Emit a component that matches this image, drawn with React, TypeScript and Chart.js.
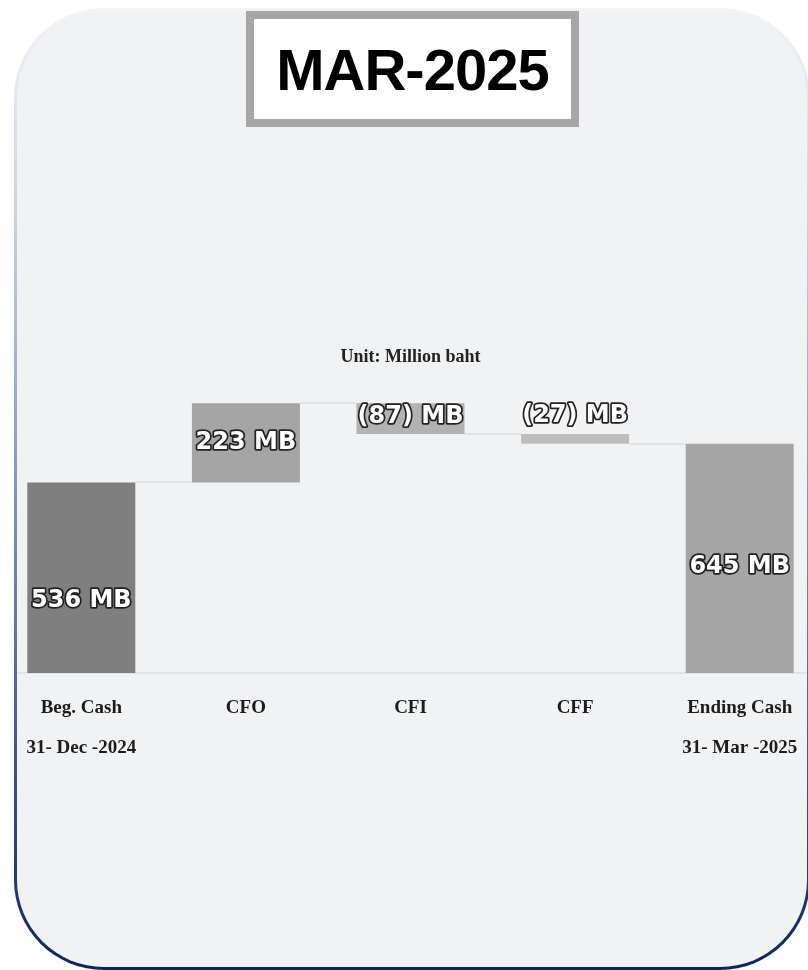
import React, { useEffect, useRef } from "react";
import { Chart, registerables } from "chart.js";

Chart.register(...registerables);

const periodTitle = "MAR-2025";
const unitLabel = "Unit: Million baht";
const categories: (string | string[])[] = [
  ["Beg. Cash", "31- Dec -2024"],
  "CFO",
  "CFI",
  "CFF",
  ["Ending Cash", "31- Mar -2025"],
];
const beginningCash = 536;
const flows = [223, -87, -27];
const endingCash = 645;
const valueLabels = ["536 MB", "223 MB", "(87) MB", "(27) MB", "645 MB"];
const barColors = ["#7f7f7f", "#a5a5a5", "#b2b2b2", "#bdbdbd", "#a6a6a6"];
const yMax = 800;

function buildRanges(): [number, number][] {
  const out: [number, number][] = [[0, beginningCash]];
  let run = beginningCash;
  for (const f of flows) {
    const next = run + f;
    out.push([Math.min(run, next), Math.max(run, next)]);
    run = next;
  }
  out.push([0, endingCash]);
  return out;
}

function cumulative(): number[] {
  const c: number[] = [beginningCash];
  let run = beginningCash;
  for (const f of flows) {
    run += f;
    c.push(run);
  }
  return c;
}

const labelOffsets = [23, 0, -2, 0, 8];

const waterfallPlugin = {
  id: "waterfallDecor",
  beforeDatasetsDraw(chart: any) {
    const meta = chart.getDatasetMeta(0);
    const y = chart.scales.y;
    const cum = cumulative();
    const ctx = chart.ctx;
    ctx.save();
    ctx.strokeStyle = "#e1e2e5";
    ctx.lineWidth = 2;
    for (let i = 0; i < meta.data.length - 1; i++) {
      const a = meta.data[i];
      const b = meta.data[i + 1];
      const yy = Math.round(y.getPixelForValue(cum[i]));
      ctx.beginPath();
      ctx.moveTo(a.x + a.width / 2, yy);
      ctx.lineTo(b.x - b.width / 2, yy);
      ctx.stroke();
    }
    ctx.restore();
  },
  afterDatasetsDraw(chart: any) {
    const meta = chart.getDatasetMeta(0);
    const ctx = chart.ctx;
    ctx.save();
    ctx.font = "bold 24px 'DejaVu Sans'";
    ctx.textAlign = "center";
    ctx.textBaseline = "middle";
    ctx.lineJoin = "round";
    meta.data.forEach((bar: any, i: number) => {
      const top = Math.min(bar.y, bar.base);
      const bottom = Math.max(bar.y, bar.base);
      const h = bottom - top;
      let cy = (top + bottom) / 2 + labelOffsets[i];
      if (h < 20) cy = top - 18;
      ctx.lineWidth = 3.5;
      ctx.strokeStyle = "#222222";
      ctx.strokeText(valueLabels[i], bar.x, cy);
      ctx.fillStyle = "#ffffff";
      ctx.fillText(valueLabels[i], bar.x, cy);
    });
    ctx.restore();
  },
};

function WaterfallChart() {
  const ref = useRef<HTMLCanvasElement | null>(null);
  useEffect(() => {
    if (!ref.current) return;
    const chart = new Chart(ref.current, {
      type: "bar",
      data: {
        labels: categories as any,
        datasets: [
          {
            data: buildRanges() as any,
            backgroundColor: barColors,
            borderWidth: 0,
            barPercentage: 1,
            categoryPercentage: 0.656,
          },
        ],
      },
      options: {
        responsive: false,
        animation: false,
        layout: { padding: 0 },
        plugins: {
          legend: { display: false },
          tooltip: { enabled: false },
          title: {
            display: true,
            text: unitLabel,
            color: "#222222",
            font: { family: "'Liberation Serif'", size: 18, weight: "bold" },
            padding: { top: 17, bottom: 20 },
          },
        },
        scales: {
          x: {
            grid: { display: false, drawTicks: false },
            border: { display: true, color: "#e2e3e6", width: 2 },
            ticks: {
              color: "#1c1c1c",
              padding: 15,
              maxRotation: 0,
              autoSkip: false,
              font: { family: "'Liberation Serif'", size: 19, weight: "bold", lineHeight: "40px" } as any,
            },
          },
          y: {
            display: false,
            min: 0,
            max: yMax,
          },
        },
      },
      plugins: [waterfallPlugin],
    });
    return () => chart.destroy();
  }, []);
  return (
    <canvas
      ref={ref}
      width={823}
      height={453}
      style={{ position: "absolute", left: -18, top: 319, width: 823, height: 453 }}
    />
  );
}

export default function App() {
  return (
    <div
      style={{
        position: "fixed",
        left: 0,
        top: 0,
        width: 808,
        height: 970,
        overflow: "hidden",
        background: "#ffffff",
      }}
    >
      <div
        style={{
          position: "absolute",
          left: 14,
          top: 8,
          width: 796,
          height: 962,
          boxSizing: "border-box",
          border: "3px solid transparent",
          borderRadius: 90,
          overflow: "hidden",
          background:
            "linear-gradient(#f1f2f4, #f1f2f4) padding-box, linear-gradient(to bottom, #f3f4f7 0%, #c9d1e2 22%, #6c7fae 60%, #0b2463 100%) border-box",
        }}
      >
        <WaterfallChart />
      </div>
      <div
        style={{
          position: "absolute",
          left: 246,
          top: 11,
          width: 333,
          height: 116,
          boxSizing: "border-box",
          border: "8px solid #a6a6a6",
          background: "#ffffff",
          display: "flex",
          alignItems: "center",
          justifyContent: "center",
          fontFamily: "'Liberation Sans', Arial, sans-serif",
          fontWeight: 700,
          fontSize: 58,
          letterSpacing: -1,
          color: "#000000",
        }}
      >
        {periodTitle}
      </div>
    </div>
  );
}
